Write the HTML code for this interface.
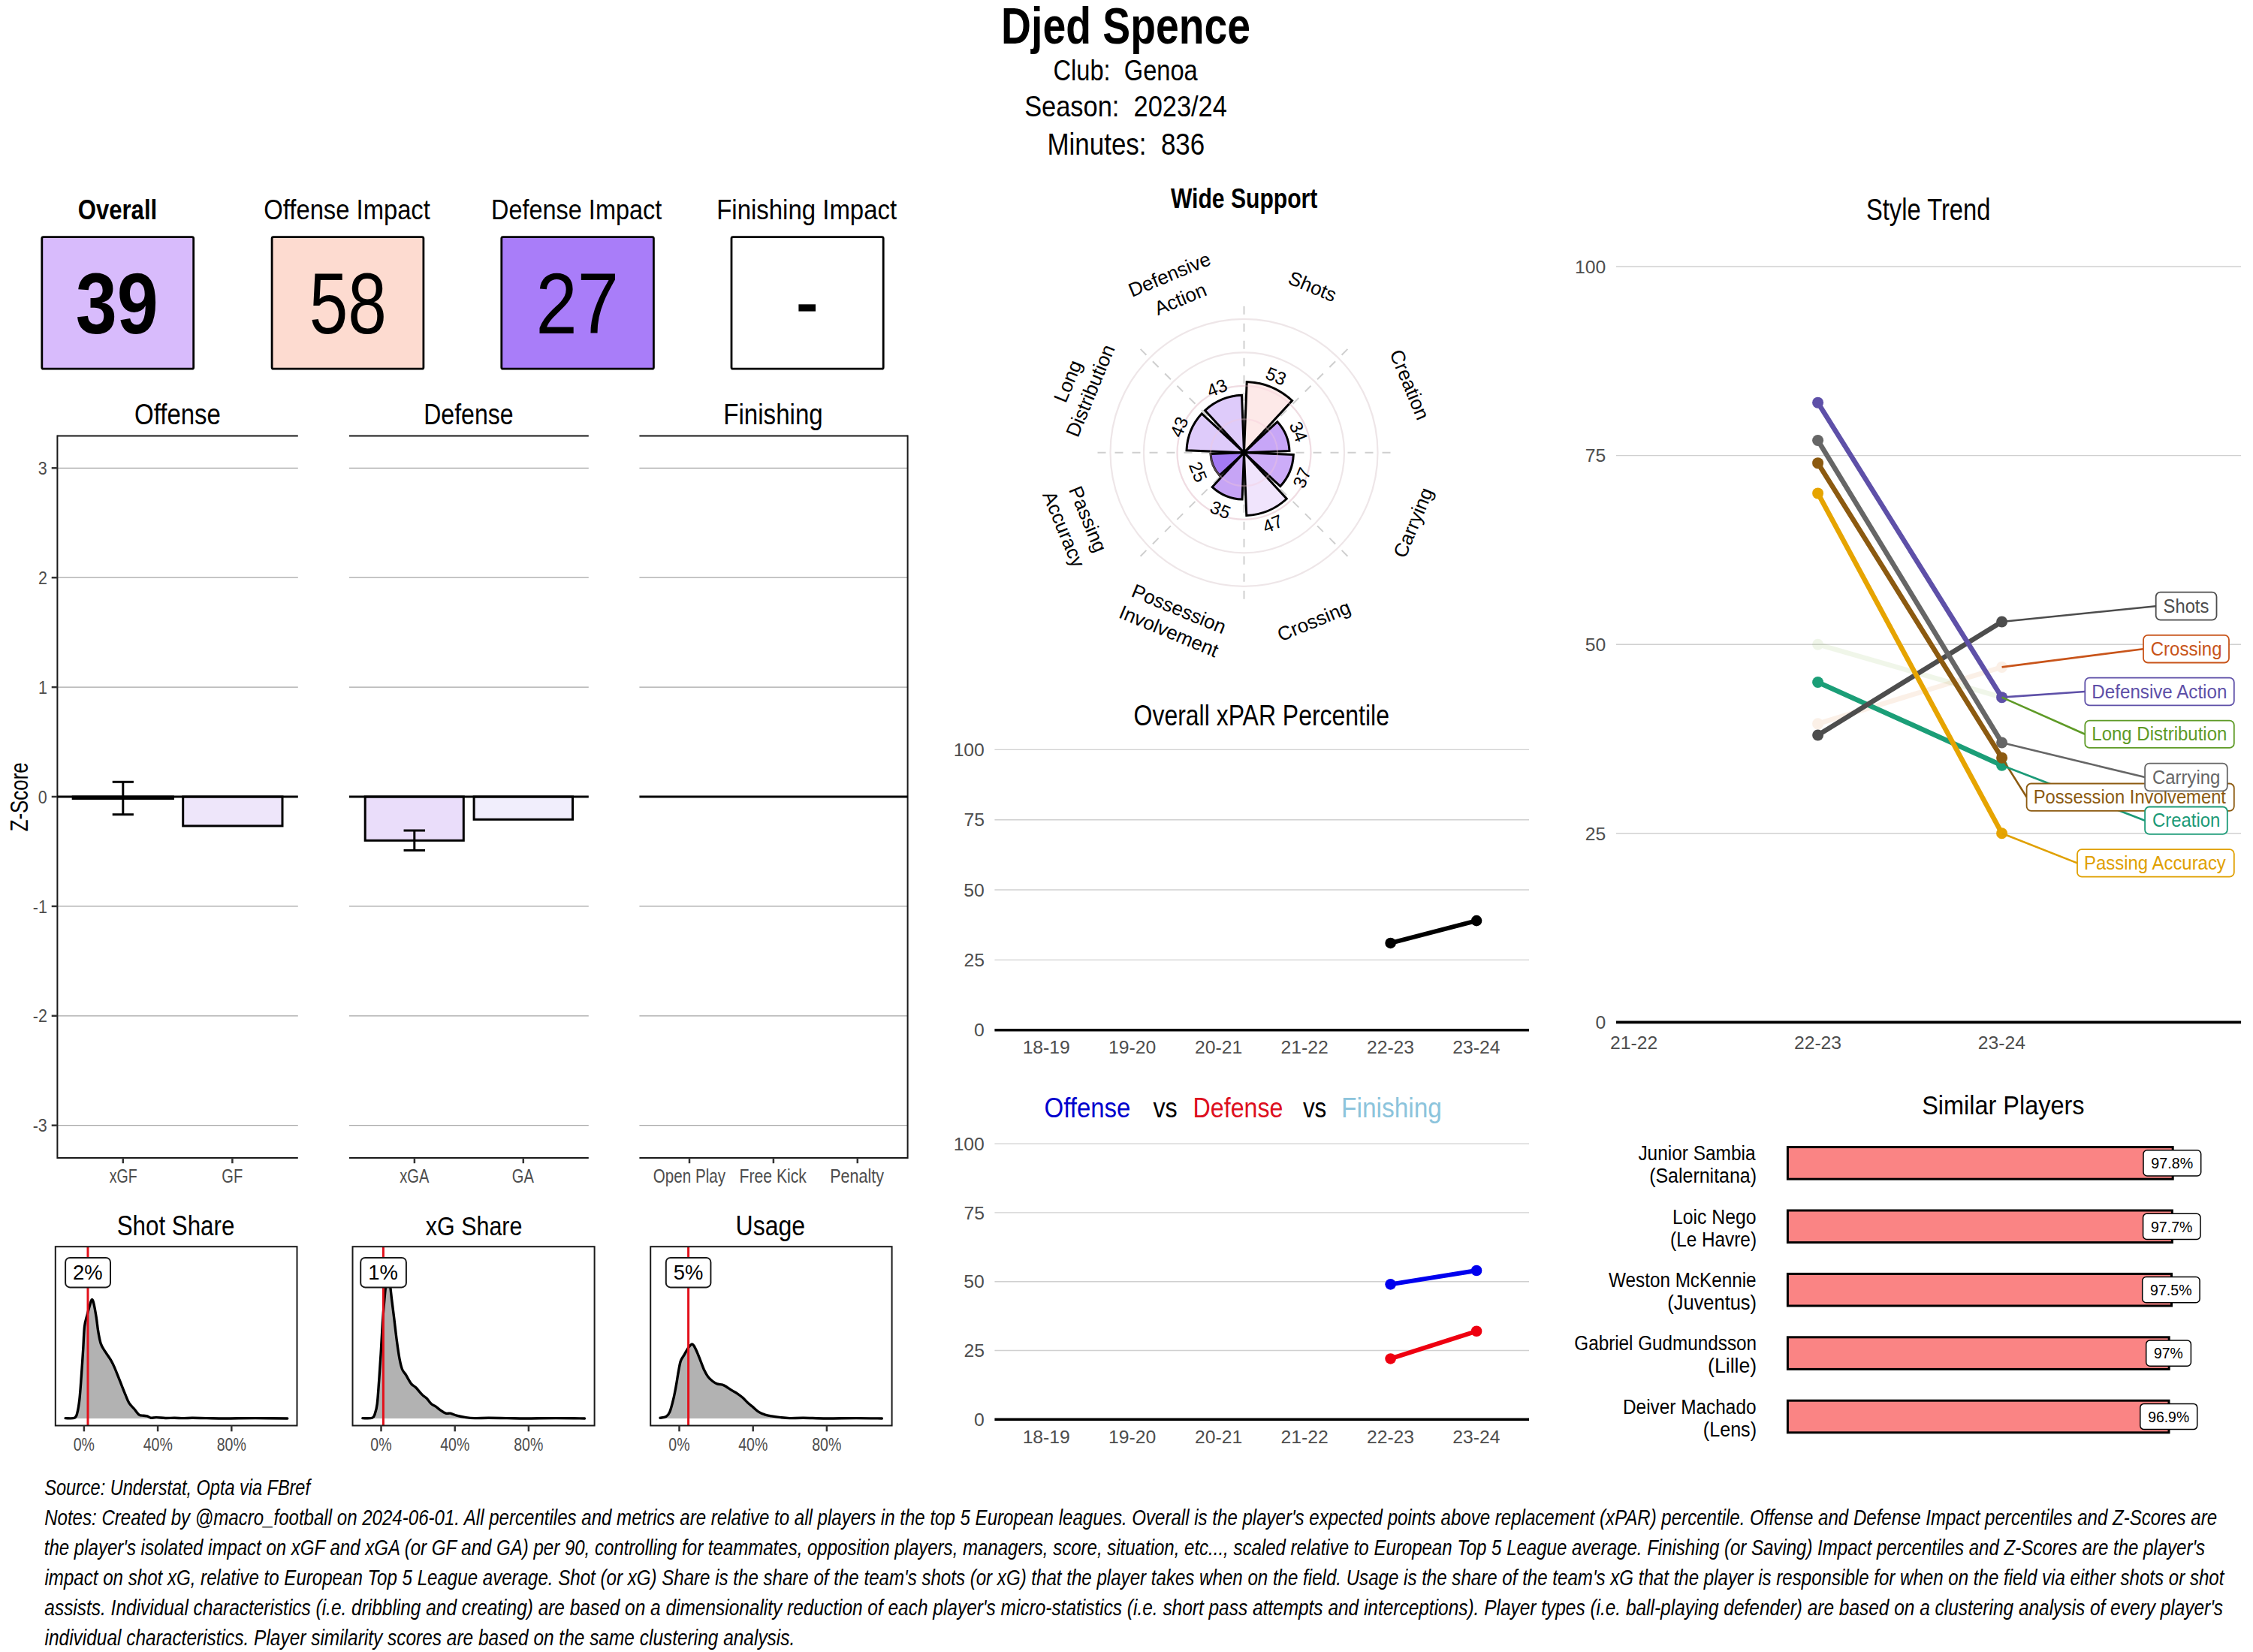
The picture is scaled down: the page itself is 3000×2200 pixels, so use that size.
<!DOCTYPE html>
<html><head><meta charset="utf-8"><style>
html,body{margin:0;padding:0;background:#fff;}
svg{display:block;}
text{font-family:"Liberation Sans",sans-serif;white-space:pre;}
</style></head><body>
<svg width="3000" height="2200" viewBox="0 0 3000 2200">
<rect x="0" y="0" width="3000" height="2200" fill="#fff"/>
<text x="1333.10" y="57.70" font-size="68.31" font-weight="bold" fill="#000" textLength="331.89" lengthAdjust="spacingAndGlyphs">Djed Spence</text>
<text x="1402.54" y="106.50" font-size="38.66" fill="#000" textLength="192.16" lengthAdjust="spacingAndGlyphs">Club:  Genoa</text>
<text x="1364.14" y="154.50" font-size="39.24" fill="#000" textLength="269.77" lengthAdjust="spacingAndGlyphs">Season:  2023/24</text>
<text x="1394.43" y="206.00" font-size="40.12" fill="#000" textLength="209.80" lengthAdjust="spacingAndGlyphs">Minutes:  836</text>
<text x="103.72" y="292.00" font-size="37.79" font-weight="bold" fill="#000" textLength="105.48" lengthAdjust="spacingAndGlyphs">Overall</text>
<text x="351.35" y="292.00" font-size="37.79" fill="#000" textLength="221.49" lengthAdjust="spacingAndGlyphs">Offense Impact</text>
<text x="654.04" y="292.00" font-size="37.79" fill="#000" textLength="227.20" lengthAdjust="spacingAndGlyphs">Defense Impact</text>
<text x="954.20" y="292.00" font-size="37.79" fill="#000" textLength="239.94" lengthAdjust="spacingAndGlyphs">Finishing Impact</text>
<rect x="55.80" y="315.60" width="201.90" height="175.60" fill="#D8BBFC" stroke="#000" stroke-width="2.8" rx="2"/>
<rect x="362.10" y="315.60" width="201.80" height="175.60" fill="#FDDBD0" stroke="#000" stroke-width="2.8" rx="2"/>
<rect x="667.80" y="315.60" width="202.60" height="175.60" fill="#A97DF9" stroke="#000" stroke-width="2.8" rx="2"/>
<rect x="974.00" y="315.60" width="202.20" height="175.60" fill="#FFFFFF" stroke="#000" stroke-width="2.8" rx="2"/>
<text x="100.73" y="444.00" font-size="114.41" font-weight="bold" fill="#000" textLength="109.94" lengthAdjust="spacingAndGlyphs">39</text>
<text x="411.69" y="444.00" font-size="114.41" fill="#000" textLength="103.14" lengthAdjust="spacingAndGlyphs">58</text>
<text x="713.51" y="444.00" font-size="114.41" fill="#000" textLength="110.38" lengthAdjust="spacingAndGlyphs">27</text>
<rect x="1063.40" y="405.30" width="22.60" height="9.30" fill="#000" stroke="none" stroke-width="0" rx="0"/>
<line x1="76.40" y1="623.30" x2="396.80" y2="623.30" stroke="#A6A6A6" stroke-width="1.3"/>
<line x1="76.40" y1="769.20" x2="396.80" y2="769.20" stroke="#A6A6A6" stroke-width="1.3"/>
<line x1="76.40" y1="915.10" x2="396.80" y2="915.10" stroke="#A6A6A6" stroke-width="1.3"/>
<line x1="76.40" y1="1206.90" x2="396.80" y2="1206.90" stroke="#A6A6A6" stroke-width="1.3"/>
<line x1="76.40" y1="1352.80" x2="396.80" y2="1352.80" stroke="#A6A6A6" stroke-width="1.3"/>
<line x1="76.40" y1="1498.70" x2="396.80" y2="1498.70" stroke="#A6A6A6" stroke-width="1.3"/>
<line x1="76.40" y1="580.50" x2="396.80" y2="580.50" stroke="#1A1A1A" stroke-width="2"/>
<line x1="76.40" y1="1542.00" x2="396.80" y2="1542.00" stroke="#1A1A1A" stroke-width="2"/>
<line x1="464.90" y1="623.30" x2="783.80" y2="623.30" stroke="#A6A6A6" stroke-width="1.3"/>
<line x1="464.90" y1="769.20" x2="783.80" y2="769.20" stroke="#A6A6A6" stroke-width="1.3"/>
<line x1="464.90" y1="915.10" x2="783.80" y2="915.10" stroke="#A6A6A6" stroke-width="1.3"/>
<line x1="464.90" y1="1206.90" x2="783.80" y2="1206.90" stroke="#A6A6A6" stroke-width="1.3"/>
<line x1="464.90" y1="1352.80" x2="783.80" y2="1352.80" stroke="#A6A6A6" stroke-width="1.3"/>
<line x1="464.90" y1="1498.70" x2="783.80" y2="1498.70" stroke="#A6A6A6" stroke-width="1.3"/>
<line x1="464.90" y1="580.50" x2="783.80" y2="580.50" stroke="#1A1A1A" stroke-width="2"/>
<line x1="464.90" y1="1542.00" x2="783.80" y2="1542.00" stroke="#1A1A1A" stroke-width="2"/>
<line x1="851.40" y1="623.30" x2="1208.60" y2="623.30" stroke="#A6A6A6" stroke-width="1.3"/>
<line x1="851.40" y1="769.20" x2="1208.60" y2="769.20" stroke="#A6A6A6" stroke-width="1.3"/>
<line x1="851.40" y1="915.10" x2="1208.60" y2="915.10" stroke="#A6A6A6" stroke-width="1.3"/>
<line x1="851.40" y1="1206.90" x2="1208.60" y2="1206.90" stroke="#A6A6A6" stroke-width="1.3"/>
<line x1="851.40" y1="1352.80" x2="1208.60" y2="1352.80" stroke="#A6A6A6" stroke-width="1.3"/>
<line x1="851.40" y1="1498.70" x2="1208.60" y2="1498.70" stroke="#A6A6A6" stroke-width="1.3"/>
<line x1="851.40" y1="580.50" x2="1208.60" y2="580.50" stroke="#1A1A1A" stroke-width="2"/>
<line x1="851.40" y1="1542.00" x2="1208.60" y2="1542.00" stroke="#1A1A1A" stroke-width="2"/>
<line x1="76.40" y1="579.50" x2="76.40" y2="1543.00" stroke="#1A1A1A" stroke-width="2"/>
<line x1="1208.60" y1="579.50" x2="1208.60" y2="1543.00" stroke="#1A1A1A" stroke-width="2"/>
<line x1="68.70" y1="623.30" x2="76.40" y2="623.30" stroke="#333" stroke-width="2.5"/>
<text x="50.79" y="631.90" font-size="24.44" fill="#4D4D4D" textLength="11.96" lengthAdjust="spacingAndGlyphs">3</text>
<line x1="68.70" y1="769.20" x2="76.40" y2="769.20" stroke="#333" stroke-width="2.5"/>
<text x="50.92" y="777.80" font-size="24.44" fill="#4D4D4D" textLength="11.96" lengthAdjust="spacingAndGlyphs">2</text>
<line x1="68.70" y1="915.10" x2="76.40" y2="915.10" stroke="#333" stroke-width="2.5"/>
<text x="50.89" y="923.70" font-size="24.44" fill="#4D4D4D" textLength="11.96" lengthAdjust="spacingAndGlyphs">1</text>
<line x1="68.70" y1="1061.00" x2="76.40" y2="1061.00" stroke="#333" stroke-width="2.5"/>
<text x="50.68" y="1069.60" font-size="24.44" fill="#4D4D4D" textLength="11.96" lengthAdjust="spacingAndGlyphs">0</text>
<line x1="68.70" y1="1206.90" x2="76.40" y2="1206.90" stroke="#333" stroke-width="2.5"/>
<text x="43.73" y="1215.50" font-size="24.44" fill="#4D4D4D" textLength="19.12" lengthAdjust="spacingAndGlyphs">-1</text>
<line x1="68.70" y1="1352.80" x2="76.40" y2="1352.80" stroke="#333" stroke-width="2.5"/>
<text x="43.76" y="1361.40" font-size="24.44" fill="#4D4D4D" textLength="19.12" lengthAdjust="spacingAndGlyphs">-2</text>
<line x1="68.70" y1="1498.70" x2="76.40" y2="1498.70" stroke="#333" stroke-width="2.5"/>
<text x="43.63" y="1507.30" font-size="24.44" fill="#4D4D4D" textLength="19.12" lengthAdjust="spacingAndGlyphs">-3</text>
<g transform="translate(26,1061.5) rotate(-90)">
<text x="-45.82" y="11.35" font-size="32.99" fill="#000" textLength="91.97" lengthAdjust="spacingAndGlyphs">Z-Score</text>
</g>
<text x="179.05" y="565.30" font-size="38.81" fill="#000" textLength="114.81" lengthAdjust="spacingAndGlyphs">Offense</text>
<text x="564.17" y="565.30" font-size="38.81" fill="#000" textLength="119.46" lengthAdjust="spacingAndGlyphs">Defense</text>
<text x="963.29" y="565.00" font-size="37.94" fill="#000" textLength="132.45" lengthAdjust="spacingAndGlyphs">Finishing</text>
<line x1="163.80" y1="1542.00" x2="163.80" y2="1549.20" stroke="#333" stroke-width="2.5"/>
<text x="145.68" y="1574.50" font-size="25.15" fill="#4D4D4D" textLength="37.00" lengthAdjust="spacingAndGlyphs">xGF</text>
<line x1="309.40" y1="1542.00" x2="309.40" y2="1549.20" stroke="#333" stroke-width="2.5"/>
<text x="295.33" y="1574.50" font-size="25.15" fill="#4D4D4D" textLength="27.93" lengthAdjust="spacingAndGlyphs">GF</text>
<line x1="551.90" y1="1542.00" x2="551.90" y2="1549.20" stroke="#333" stroke-width="2.5"/>
<text x="532.25" y="1574.50" font-size="25.15" fill="#4D4D4D" textLength="39.12" lengthAdjust="spacingAndGlyphs">xGA</text>
<line x1="696.80" y1="1542.00" x2="696.80" y2="1549.20" stroke="#333" stroke-width="2.5"/>
<text x="681.78" y="1574.50" font-size="25.15" fill="#4D4D4D" textLength="29.06" lengthAdjust="spacingAndGlyphs">GA</text>
<line x1="918.00" y1="1542.00" x2="918.00" y2="1549.20" stroke="#333" stroke-width="2.5"/>
<text x="869.82" y="1574.50" font-size="25.15" fill="#4D4D4D" textLength="96.22" lengthAdjust="spacingAndGlyphs">Open Play</text>
<line x1="1029.90" y1="1542.00" x2="1029.90" y2="1549.20" stroke="#333" stroke-width="2.5"/>
<text x="984.46" y="1574.50" font-size="25.15" fill="#4D4D4D" textLength="89.51" lengthAdjust="spacingAndGlyphs">Free Kick</text>
<line x1="1141.80" y1="1542.00" x2="1141.80" y2="1549.20" stroke="#333" stroke-width="2.5"/>
<text x="1105.23" y="1574.50" font-size="25.15" fill="#4D4D4D" textLength="71.81" lengthAdjust="spacingAndGlyphs">Penalty</text>
<rect x="97.20" y="1061.00" width="133.20" height="2.50" fill="#EFE8FB" stroke="#000" stroke-width="3" rx="0"/>
<rect x="243.70" y="1061.00" width="132.30" height="38.90" fill="#EEE6FA" stroke="#000" stroke-width="3" rx="0"/>
<rect x="486.20" y="1061.00" width="131.10" height="58.30" fill="#EADDFA" stroke="#000" stroke-width="3" rx="0"/>
<rect x="631.10" y="1061.00" width="131.40" height="30.30" fill="#F1EEFC" stroke="#000" stroke-width="3" rx="0"/>
<line x1="76.40" y1="1061.00" x2="396.80" y2="1061.00" stroke="#000" stroke-width="3"/>
<line x1="464.90" y1="1061.00" x2="783.80" y2="1061.00" stroke="#000" stroke-width="3"/>
<line x1="851.40" y1="1061.00" x2="1208.60" y2="1061.00" stroke="#000" stroke-width="3"/>
<line x1="163.80" y1="1041.30" x2="163.80" y2="1084.70" stroke="#000" stroke-width="3"/>
<line x1="149.70" y1="1041.30" x2="177.90" y2="1041.30" stroke="#000" stroke-width="3"/>
<line x1="149.70" y1="1084.70" x2="177.90" y2="1084.70" stroke="#000" stroke-width="3"/>
<line x1="551.80" y1="1106.00" x2="551.80" y2="1132.40" stroke="#000" stroke-width="3"/>
<line x1="537.55" y1="1106.00" x2="566.05" y2="1106.00" stroke="#000" stroke-width="3"/>
<line x1="537.55" y1="1132.40" x2="566.05" y2="1132.40" stroke="#000" stroke-width="3"/>
<text x="155.68" y="1645.00" font-size="37.79" fill="#000" textLength="156.71" lengthAdjust="spacingAndGlyphs">Shot Share</text>
<text x="566.86" y="1645.00" font-size="35.47" fill="#000" textLength="128.49" lengthAdjust="spacingAndGlyphs">xG Share</text>
<text x="979.53" y="1645.00" font-size="37.79" fill="#000" textLength="92.59" lengthAdjust="spacingAndGlyphs">Usage</text>
<path d="M87.11,1888.62 C89.12,1888.56 96.59,1889.43 99.21,1888.26 C101.84,1887.09 101.74,1885.73 102.85,1881.60 C103.95,1877.46 104.96,1871.51 105.87,1863.44 C106.78,1855.37 107.49,1844.27 108.29,1833.17 C109.10,1822.07 110.01,1807.95 110.71,1796.85 C111.42,1785.75 111.62,1774.25 112.53,1766.59 C113.44,1758.92 114.95,1755.69 116.16,1750.85 C117.37,1746.00 118.79,1740.86 119.79,1737.53 C120.80,1734.20 121.41,1731.28 122.22,1730.87 C123.02,1730.47 123.63,1731.17 124.64,1735.11 C125.65,1739.04 127.26,1748.22 128.27,1754.48 C129.28,1760.73 129.68,1766.79 130.69,1772.64 C131.70,1778.49 132.71,1784.95 134.32,1789.59 C135.94,1794.23 138.16,1796.85 140.38,1800.48 C142.59,1804.12 145.62,1807.95 147.64,1811.38 C149.66,1814.81 150.46,1816.42 152.48,1821.07 C154.50,1825.71 157.32,1833.17 159.75,1839.23 C162.17,1845.28 164.99,1852.54 167.01,1857.38 C169.03,1862.23 169.83,1865.05 171.85,1868.28 C173.87,1871.51 176.90,1874.13 179.12,1876.76 C181.34,1879.38 183.15,1882.61 185.17,1884.02 C187.19,1885.43 189.41,1884.93 191.22,1885.23 C193.04,1885.53 194.45,1885.33 196.07,1885.84 C197.68,1886.34 198.89,1887.95 200.91,1888.26 C202.93,1888.56 204.94,1887.61 208.17,1887.65 C211.40,1887.69 216.24,1888.40 220.28,1888.50 C224.31,1888.60 228.35,1888.24 232.38,1888.26 C236.42,1888.28 240.46,1888.62 244.49,1888.62 C248.53,1888.62 251.51,1888.26 256.60,1888.26 C261.68,1888.26 267.77,1888.50 275.00,1888.62 C282.23,1888.74 289.17,1889.00 300.00,1889.00 C310.83,1889.00 326.22,1888.60 340.00,1888.60 C353.78,1888.60 375.58,1888.93 382.70,1889.00 L382.70,1889 L87.11,1889 Z" fill="#B2B2B2" stroke="none"/>
<path d="M87.11,1888.62 C89.12,1888.56 96.59,1889.43 99.21,1888.26 C101.84,1887.09 101.74,1885.73 102.85,1881.60 C103.95,1877.46 104.96,1871.51 105.87,1863.44 C106.78,1855.37 107.49,1844.27 108.29,1833.17 C109.10,1822.07 110.01,1807.95 110.71,1796.85 C111.42,1785.75 111.62,1774.25 112.53,1766.59 C113.44,1758.92 114.95,1755.69 116.16,1750.85 C117.37,1746.00 118.79,1740.86 119.79,1737.53 C120.80,1734.20 121.41,1731.28 122.22,1730.87 C123.02,1730.47 123.63,1731.17 124.64,1735.11 C125.65,1739.04 127.26,1748.22 128.27,1754.48 C129.28,1760.73 129.68,1766.79 130.69,1772.64 C131.70,1778.49 132.71,1784.95 134.32,1789.59 C135.94,1794.23 138.16,1796.85 140.38,1800.48 C142.59,1804.12 145.62,1807.95 147.64,1811.38 C149.66,1814.81 150.46,1816.42 152.48,1821.07 C154.50,1825.71 157.32,1833.17 159.75,1839.23 C162.17,1845.28 164.99,1852.54 167.01,1857.38 C169.03,1862.23 169.83,1865.05 171.85,1868.28 C173.87,1871.51 176.90,1874.13 179.12,1876.76 C181.34,1879.38 183.15,1882.61 185.17,1884.02 C187.19,1885.43 189.41,1884.93 191.22,1885.23 C193.04,1885.53 194.45,1885.33 196.07,1885.84 C197.68,1886.34 198.89,1887.95 200.91,1888.26 C202.93,1888.56 204.94,1887.61 208.17,1887.65 C211.40,1887.69 216.24,1888.40 220.28,1888.50 C224.31,1888.60 228.35,1888.24 232.38,1888.26 C236.42,1888.28 240.46,1888.62 244.49,1888.62 C248.53,1888.62 251.51,1888.26 256.60,1888.26 C261.68,1888.26 267.77,1888.50 275.00,1888.62 C282.23,1888.74 289.17,1889.00 300.00,1889.00 C310.83,1889.00 326.22,1888.60 340.00,1888.60 C353.78,1888.60 375.58,1888.93 382.70,1889.00" fill="none" stroke="#000" stroke-width="3.4" stroke-linejoin="round" stroke-linecap="round"/>
<line x1="117.00" y1="1660.20" x2="117.00" y2="1898.50" stroke="#E3111B" stroke-width="3"/>
<rect x="73.80" y="1660.20" width="321.70" height="238.30" fill="none" stroke="#1A1A1A" stroke-width="2" rx="0"/>
<line x1="111.90" y1="1898.50" x2="111.90" y2="1906.30" stroke="#333" stroke-width="2.5"/>
<text x="97.74" y="1931.60" font-size="24.44" fill="#4D4D4D" textLength="28.25" lengthAdjust="spacingAndGlyphs">0%</text>
<line x1="210.10" y1="1898.50" x2="210.10" y2="1906.30" stroke="#333" stroke-width="2.5"/>
<text x="190.66" y="1931.60" font-size="24.44" fill="#4D4D4D" textLength="39.12" lengthAdjust="spacingAndGlyphs">40%</text>
<line x1="308.30" y1="1898.50" x2="308.30" y2="1906.30" stroke="#333" stroke-width="2.5"/>
<text x="288.66" y="1931.60" font-size="24.44" fill="#4D4D4D" textLength="39.12" lengthAdjust="spacingAndGlyphs">80%</text>
<rect x="87.10" y="1674.90" width="59.90" height="39.50" fill="#fff" stroke="#1A1A1A" stroke-width="2" rx="6"/>
<text x="97.05" y="1704.20" font-size="27.40" fill="#000" textLength="39.60" lengthAdjust="spacingAndGlyphs">2%</text>
<path d="M482.87,1888.62 C484.99,1888.56 492.86,1889.23 495.58,1888.26 C498.31,1887.29 498.10,1885.94 499.21,1882.81 C500.32,1879.68 501.33,1876.76 502.24,1869.49 C503.15,1862.23 503.85,1850.32 504.66,1839.23 C505.47,1828.13 506.28,1816.02 507.08,1802.91 C507.89,1789.79 508.70,1772.64 509.50,1760.53 C510.31,1748.43 511.12,1739.14 511.92,1730.27 C512.73,1721.39 513.54,1711.90 514.35,1707.26 C515.15,1702.62 515.96,1702.02 516.77,1702.42 C517.57,1702.82 518.38,1705.04 519.19,1709.69 C520.00,1714.33 520.70,1722.80 521.61,1730.27 C522.52,1737.73 523.53,1745.40 524.64,1754.48 C525.75,1763.56 527.06,1775.67 528.27,1784.75 C529.48,1793.83 530.69,1802.50 531.90,1808.96 C533.11,1815.42 534.12,1819.85 535.53,1823.49 C536.95,1827.12 538.36,1827.52 540.38,1830.75 C542.39,1833.98 545.42,1840.03 547.64,1842.86 C549.86,1845.68 551.27,1845.28 553.69,1847.70 C556.11,1850.12 559.75,1854.96 562.17,1857.38 C564.59,1859.81 566.20,1860.21 568.22,1862.23 C570.24,1864.25 572.26,1867.68 574.27,1869.49 C576.29,1871.31 578.31,1871.71 580.33,1873.12 C582.34,1874.54 584.16,1876.45 586.38,1877.97 C588.60,1879.48 591.42,1881.50 593.64,1882.20 C595.86,1882.91 597.28,1881.70 599.70,1882.20 C602.12,1882.71 604.74,1884.32 608.17,1885.23 C611.60,1886.14 616.24,1887.09 620.28,1887.65 C624.31,1888.22 627.34,1888.52 632.38,1888.62 C637.43,1888.72 643.44,1888.26 650.54,1888.26 C657.65,1888.26 666.76,1888.50 675.00,1888.62 C683.24,1888.74 689.17,1889.00 700.00,1889.00 C710.83,1889.00 726.92,1888.60 740.00,1888.60 C753.08,1888.60 772.08,1888.93 778.50,1889.00 L778.50,1889 L482.87,1889 Z" fill="#B2B2B2" stroke="none"/>
<path d="M482.87,1888.62 C484.99,1888.56 492.86,1889.23 495.58,1888.26 C498.31,1887.29 498.10,1885.94 499.21,1882.81 C500.32,1879.68 501.33,1876.76 502.24,1869.49 C503.15,1862.23 503.85,1850.32 504.66,1839.23 C505.47,1828.13 506.28,1816.02 507.08,1802.91 C507.89,1789.79 508.70,1772.64 509.50,1760.53 C510.31,1748.43 511.12,1739.14 511.92,1730.27 C512.73,1721.39 513.54,1711.90 514.35,1707.26 C515.15,1702.62 515.96,1702.02 516.77,1702.42 C517.57,1702.82 518.38,1705.04 519.19,1709.69 C520.00,1714.33 520.70,1722.80 521.61,1730.27 C522.52,1737.73 523.53,1745.40 524.64,1754.48 C525.75,1763.56 527.06,1775.67 528.27,1784.75 C529.48,1793.83 530.69,1802.50 531.90,1808.96 C533.11,1815.42 534.12,1819.85 535.53,1823.49 C536.95,1827.12 538.36,1827.52 540.38,1830.75 C542.39,1833.98 545.42,1840.03 547.64,1842.86 C549.86,1845.68 551.27,1845.28 553.69,1847.70 C556.11,1850.12 559.75,1854.96 562.17,1857.38 C564.59,1859.81 566.20,1860.21 568.22,1862.23 C570.24,1864.25 572.26,1867.68 574.27,1869.49 C576.29,1871.31 578.31,1871.71 580.33,1873.12 C582.34,1874.54 584.16,1876.45 586.38,1877.97 C588.60,1879.48 591.42,1881.50 593.64,1882.20 C595.86,1882.91 597.28,1881.70 599.70,1882.20 C602.12,1882.71 604.74,1884.32 608.17,1885.23 C611.60,1886.14 616.24,1887.09 620.28,1887.65 C624.31,1888.22 627.34,1888.52 632.38,1888.62 C637.43,1888.72 643.44,1888.26 650.54,1888.26 C657.65,1888.26 666.76,1888.50 675.00,1888.62 C683.24,1888.74 689.17,1889.00 700.00,1889.00 C710.83,1889.00 726.92,1888.60 740.00,1888.60 C753.08,1888.60 772.08,1888.93 778.50,1889.00" fill="none" stroke="#000" stroke-width="3.4" stroke-linejoin="round" stroke-linecap="round"/>
<line x1="510.40" y1="1660.20" x2="510.40" y2="1898.50" stroke="#E3111B" stroke-width="3"/>
<rect x="469.50" y="1660.20" width="322.10" height="238.30" fill="none" stroke="#1A1A1A" stroke-width="2" rx="0"/>
<line x1="507.50" y1="1898.50" x2="507.50" y2="1906.30" stroke="#333" stroke-width="2.5"/>
<text x="493.34" y="1931.60" font-size="24.44" fill="#4D4D4D" textLength="28.25" lengthAdjust="spacingAndGlyphs">0%</text>
<line x1="605.70" y1="1898.50" x2="605.70" y2="1906.30" stroke="#333" stroke-width="2.5"/>
<text x="586.26" y="1931.60" font-size="24.44" fill="#4D4D4D" textLength="39.12" lengthAdjust="spacingAndGlyphs">40%</text>
<line x1="703.90" y1="1898.50" x2="703.90" y2="1906.30" stroke="#333" stroke-width="2.5"/>
<text x="684.26" y="1931.60" font-size="24.44" fill="#4D4D4D" textLength="39.12" lengthAdjust="spacingAndGlyphs">80%</text>
<rect x="480.20" y="1674.90" width="60.70" height="39.50" fill="#fff" stroke="#1A1A1A" stroke-width="2" rx="6"/>
<text x="490.19" y="1704.20" font-size="27.40" fill="#000" textLength="39.60" lengthAdjust="spacingAndGlyphs">1%</text>
<path d="M879.08,1888.26 C880.39,1887.95 884.83,1887.75 886.95,1886.44 C889.07,1885.13 890.18,1884.22 891.79,1880.39 C893.41,1876.55 895.22,1869.29 896.63,1863.44 C898.05,1857.59 899.16,1851.33 900.27,1845.28 C901.38,1839.23 902.28,1832.57 903.29,1827.12 C904.30,1821.67 905.01,1816.42 906.32,1812.59 C907.63,1808.76 909.55,1806.94 911.16,1804.12 C912.78,1801.29 914.39,1797.96 916.00,1795.64 C917.62,1793.32 919.54,1790.80 920.85,1790.19 C922.16,1789.59 922.66,1790.29 923.87,1792.01 C925.08,1793.72 926.60,1797.05 928.11,1800.48 C929.62,1803.91 931.34,1808.56 932.95,1812.59 C934.57,1816.63 936.18,1821.27 937.80,1824.70 C939.41,1828.13 940.82,1830.75 942.64,1833.17 C944.46,1835.59 946.67,1837.61 948.69,1839.23 C950.71,1840.84 952.53,1842.05 954.75,1842.86 C956.97,1843.66 959.99,1843.46 962.01,1844.07 C964.03,1844.67 964.83,1845.28 966.85,1846.49 C968.87,1847.70 971.69,1849.82 974.12,1851.33 C976.54,1852.85 978.96,1853.95 981.38,1855.57 C983.80,1857.18 986.22,1858.90 988.64,1861.02 C991.07,1863.14 993.49,1866.06 995.91,1868.28 C998.33,1870.50 1000.75,1872.32 1003.17,1874.33 C1005.59,1876.35 1007.81,1878.77 1010.44,1880.39 C1013.06,1882.00 1016.09,1883.11 1018.91,1884.02 C1021.74,1884.93 1023.95,1885.23 1027.38,1885.84 C1030.82,1886.44 1035.46,1887.19 1039.49,1887.65 C1043.53,1888.12 1046.51,1888.52 1051.60,1888.62 C1056.68,1888.72 1061.93,1888.19 1070.00,1888.26 C1078.07,1888.32 1088.33,1888.94 1100.00,1889.00 C1111.67,1889.06 1127.60,1888.60 1140.00,1888.60 C1152.40,1888.60 1168.67,1888.93 1174.40,1889.00 L1174.40,1889 L879.08,1889 Z" fill="#B2B2B2" stroke="none"/>
<path d="M879.08,1888.26 C880.39,1887.95 884.83,1887.75 886.95,1886.44 C889.07,1885.13 890.18,1884.22 891.79,1880.39 C893.41,1876.55 895.22,1869.29 896.63,1863.44 C898.05,1857.59 899.16,1851.33 900.27,1845.28 C901.38,1839.23 902.28,1832.57 903.29,1827.12 C904.30,1821.67 905.01,1816.42 906.32,1812.59 C907.63,1808.76 909.55,1806.94 911.16,1804.12 C912.78,1801.29 914.39,1797.96 916.00,1795.64 C917.62,1793.32 919.54,1790.80 920.85,1790.19 C922.16,1789.59 922.66,1790.29 923.87,1792.01 C925.08,1793.72 926.60,1797.05 928.11,1800.48 C929.62,1803.91 931.34,1808.56 932.95,1812.59 C934.57,1816.63 936.18,1821.27 937.80,1824.70 C939.41,1828.13 940.82,1830.75 942.64,1833.17 C944.46,1835.59 946.67,1837.61 948.69,1839.23 C950.71,1840.84 952.53,1842.05 954.75,1842.86 C956.97,1843.66 959.99,1843.46 962.01,1844.07 C964.03,1844.67 964.83,1845.28 966.85,1846.49 C968.87,1847.70 971.69,1849.82 974.12,1851.33 C976.54,1852.85 978.96,1853.95 981.38,1855.57 C983.80,1857.18 986.22,1858.90 988.64,1861.02 C991.07,1863.14 993.49,1866.06 995.91,1868.28 C998.33,1870.50 1000.75,1872.32 1003.17,1874.33 C1005.59,1876.35 1007.81,1878.77 1010.44,1880.39 C1013.06,1882.00 1016.09,1883.11 1018.91,1884.02 C1021.74,1884.93 1023.95,1885.23 1027.38,1885.84 C1030.82,1886.44 1035.46,1887.19 1039.49,1887.65 C1043.53,1888.12 1046.51,1888.52 1051.60,1888.62 C1056.68,1888.72 1061.93,1888.19 1070.00,1888.26 C1078.07,1888.32 1088.33,1888.94 1100.00,1889.00 C1111.67,1889.06 1127.60,1888.60 1140.00,1888.60 C1152.40,1888.60 1168.67,1888.93 1174.40,1889.00" fill="none" stroke="#000" stroke-width="3.4" stroke-linejoin="round" stroke-linecap="round"/>
<line x1="916.60" y1="1660.20" x2="916.60" y2="1898.50" stroke="#E3111B" stroke-width="3"/>
<rect x="866.20" y="1660.20" width="321.40" height="238.30" fill="none" stroke="#1A1A1A" stroke-width="2" rx="0"/>
<line x1="904.50" y1="1898.50" x2="904.50" y2="1906.30" stroke="#333" stroke-width="2.5"/>
<text x="890.34" y="1931.60" font-size="24.44" fill="#4D4D4D" textLength="28.25" lengthAdjust="spacingAndGlyphs">0%</text>
<line x1="1002.70" y1="1898.50" x2="1002.70" y2="1906.30" stroke="#333" stroke-width="2.5"/>
<text x="983.26" y="1931.60" font-size="24.44" fill="#4D4D4D" textLength="39.12" lengthAdjust="spacingAndGlyphs">40%</text>
<line x1="1100.90" y1="1898.50" x2="1100.90" y2="1906.30" stroke="#333" stroke-width="2.5"/>
<text x="1081.26" y="1931.60" font-size="24.44" fill="#4D4D4D" textLength="39.12" lengthAdjust="spacingAndGlyphs">80%</text>
<rect x="886.80" y="1674.90" width="59.60" height="39.50" fill="#fff" stroke="#1A1A1A" stroke-width="2" rx="6"/>
<text x="896.74" y="1704.20" font-size="27.40" fill="#000" textLength="39.60" lengthAdjust="spacingAndGlyphs">5%</text>
<text x="59.23" y="1991.00" font-size="30.38" font-style="italic" fill="#000" textLength="353.74" lengthAdjust="spacingAndGlyphs">Source: Understat, Opta via FBref</text>
<text x="59.16" y="2031.00" font-size="30.38" font-style="italic" fill="#000" textLength="2892.93" lengthAdjust="spacingAndGlyphs">Notes: Created by @macro_football on 2024-06-01. All percentiles and metrics are relative to all players in the top 5 European leagues. Overall is the player's expected points above replacement (xPAR) percentile. Offense and Defense Impact percentiles and Z-Scores are</text>
<text x="58.81" y="2071.00" font-size="30.38" font-style="italic" fill="#000" textLength="2877.28" lengthAdjust="spacingAndGlyphs">the player's isolated impact on xGF and xGA (or GF and GA) per 90, controlling for teammates, opposition players, managers, score, situation, etc..., scaled relative to European Top 5 League average. Finishing (or Saving) Impact percentiles and Z-Scores are the player's</text>
<text x="59.51" y="2111.00" font-size="30.38" font-style="italic" fill="#000" textLength="2901.95" lengthAdjust="spacingAndGlyphs">impact on shot xG, relative to European Top 5 League average. Shot (or xG) Share is the share of the team's shots (or xG) that the player takes when on the field. Usage is the share of the team's xG that the player is responsible for when on the field via either shots or shot</text>
<text x="59.35" y="2151.00" font-size="30.38" font-style="italic" fill="#000" textLength="2900.75" lengthAdjust="spacingAndGlyphs">assists. Individual characteristics (i.e. dribbling and creating) are based on a dimensionality reduction of each player's micro-statistics (i.e. short pass attempts and interceptions). Player types (i.e. ball-playing defender) are based on a clustering analysis of every player's</text>
<text x="59.51" y="2191.00" font-size="30.38" font-style="italic" fill="#000" textLength="998.79" lengthAdjust="spacingAndGlyphs">individual characteristics. Player similarity scores are based on the same clustering analysis.</text>
<text x="1558.97" y="277.40" font-size="37.21" font-weight="bold" fill="#000" textLength="195.40" lengthAdjust="spacingAndGlyphs">Wide Support</text>
<circle cx="1656.5" cy="602.8" r="44.5" fill="none" stroke="#EEE6E8" stroke-width="2.2"/>
<circle cx="1656.5" cy="602.8" r="89" fill="none" stroke="#EEE6E8" stroke-width="2.2"/>
<circle cx="1656.5" cy="602.8" r="133.5" fill="none" stroke="#EEE6E8" stroke-width="2.2"/>
<circle cx="1656.5" cy="602.8" r="178" fill="none" stroke="#EEE6E8" stroke-width="2.2"/>
<line x1="1656.5" y1="602.8" x2="1656.50" y2="404.80" stroke="#CFCFCF" stroke-width="2" stroke-dasharray="11,12"/>
<line x1="1656.5" y1="602.8" x2="1796.51" y2="462.79" stroke="#CFCFCF" stroke-width="2" stroke-dasharray="11,12"/>
<line x1="1656.5" y1="602.8" x2="1854.50" y2="602.80" stroke="#CFCFCF" stroke-width="2" stroke-dasharray="11,12"/>
<line x1="1656.5" y1="602.8" x2="1796.51" y2="742.81" stroke="#CFCFCF" stroke-width="2" stroke-dasharray="11,12"/>
<line x1="1656.5" y1="602.8" x2="1656.50" y2="800.80" stroke="#CFCFCF" stroke-width="2" stroke-dasharray="11,12"/>
<line x1="1656.5" y1="602.8" x2="1516.49" y2="742.81" stroke="#CFCFCF" stroke-width="2" stroke-dasharray="11,12"/>
<line x1="1656.5" y1="602.8" x2="1458.50" y2="602.80" stroke="#CFCFCF" stroke-width="2" stroke-dasharray="11,12"/>
<line x1="1656.5" y1="602.8" x2="1516.49" y2="462.79" stroke="#CFCFCF" stroke-width="2" stroke-dasharray="11,12"/>
<path d="M1656.5,602.8 L1660.20,508.53 A94.34,94.34 0 0 1 1720.54,533.52 Z" fill="#FDE9E8" stroke="#000" stroke-width="3" stroke-linejoin="miter"/>
<path d="M1656.5,602.8 L1700.94,561.72 A60.52,60.52 0 0 1 1716.97,600.42 Z" fill="#C7A6F7" stroke="#000" stroke-width="3" stroke-linejoin="miter"/>
<path d="M1656.5,602.8 L1722.31,605.39 A65.86,65.86 0 0 1 1704.86,647.51 Z" fill="#CCACF8" stroke="#000" stroke-width="3" stroke-linejoin="miter"/>
<path d="M1656.5,602.8 L1713.29,664.23 A83.66,83.66 0 0 1 1659.78,686.40 Z" fill="#F0E4FC" stroke="#000" stroke-width="3" stroke-linejoin="miter"/>
<path d="M1656.5,602.8 L1654.05,665.05 A62.30,62.30 0 0 1 1614.21,648.55 Z" fill="#C6A4F5" stroke="#000" stroke-width="3" stroke-linejoin="miter"/>
<path d="M1656.5,602.8 L1623.82,633.01 A44.50,44.50 0 0 1 1612.03,604.55 Z" fill="#A47AF4" stroke="#000" stroke-width="3" stroke-linejoin="miter"/>
<path d="M1656.5,602.8 L1580.02,599.80 A76.54,76.54 0 0 1 1600.29,550.84 Z" fill="#DECBFA" stroke="#000" stroke-width="3" stroke-linejoin="miter"/>
<path d="M1656.5,602.8 L1604.54,546.59 A76.54,76.54 0 0 1 1653.50,526.32 Z" fill="#DECBFA" stroke="#000" stroke-width="3" stroke-linejoin="miter"/>
<circle cx="1656.5" cy="602.8" r="44.5" fill="none" stroke="#F4C8D8" stroke-width="2" opacity="0.35"/>
<circle cx="1656.5" cy="602.8" r="89" fill="none" stroke="#F4C8D8" stroke-width="2" opacity="0.35"/>
<g transform="translate(1699.00,501.00) rotate(22.5)"><text x="-13.30" y="8.26" font-size="24.00" fill="#000" textLength="26.70" lengthAdjust="spacingAndGlyphs">53</text></g>
<g transform="translate(1729.00,575.00) rotate(67.5)"><text x="-13.45" y="8.26" font-size="24.00" fill="#000" textLength="26.70" lengthAdjust="spacingAndGlyphs">34</text></g>
<g transform="translate(1733.60,636.40) rotate(-67.5)"><text x="-13.20" y="8.26" font-size="24.00" fill="#000" textLength="26.70" lengthAdjust="spacingAndGlyphs">37</text></g>
<g transform="translate(1694.30,697.80) rotate(-22.5)"><text x="-13.02" y="8.26" font-size="24.00" fill="#000" textLength="26.70" lengthAdjust="spacingAndGlyphs">47</text></g>
<g transform="translate(1625.00,679.00) rotate(22.5)"><text x="-13.30" y="8.26" font-size="24.00" fill="#000" textLength="26.70" lengthAdjust="spacingAndGlyphs">35</text></g>
<g transform="translate(1595.20,628.60) rotate(67.5)"><text x="-13.45" y="8.26" font-size="24.00" fill="#000" textLength="26.70" lengthAdjust="spacingAndGlyphs">25</text></g>
<g transform="translate(1570.00,568.80) rotate(-67.5)"><text x="-13.10" y="8.26" font-size="24.00" fill="#000" textLength="26.70" lengthAdjust="spacingAndGlyphs">43</text></g>
<g transform="translate(1620.30,516.80) rotate(-22.5)"><text x="-13.10" y="8.26" font-size="24.00" fill="#000" textLength="26.70" lengthAdjust="spacingAndGlyphs">43</text></g>
<g transform="translate(1747.80,381.50) rotate(22.5)"><text x="-33.36" y="8.94" font-size="26.00" fill="#000" textLength="66.49" lengthAdjust="spacingAndGlyphs">Shots</text></g>
<g transform="translate(1557.70,365.30) rotate(-22.5)"><text x="-58.30" y="8.94" font-size="26.00" fill="#000" textLength="115.62" lengthAdjust="spacingAndGlyphs">Defensive</text></g>
<g transform="translate(1571.00,398.50) rotate(-22.5)"><text x="-35.31" y="8.94" font-size="26.00" fill="#000" textLength="72.26" lengthAdjust="spacingAndGlyphs">Action</text></g>
<g transform="translate(1876.90,512.10) rotate(67.5)"><text x="-48.95" y="8.94" font-size="26.00" fill="#000" textLength="98.27" lengthAdjust="spacingAndGlyphs">Creation</text></g>
<g transform="translate(1881.60,696.20) rotate(-67.5)"><text x="-48.95" y="8.94" font-size="26.00" fill="#000" textLength="98.25" lengthAdjust="spacingAndGlyphs">Carrying</text></g>
<g transform="translate(1749.40,826.90) rotate(-22.5)"><text x="-51.12" y="8.94" font-size="26.00" fill="#000" textLength="102.59" lengthAdjust="spacingAndGlyphs">Crossing</text></g>
<g transform="translate(1570.00,811.00) rotate(22.5)"><text x="-66.70" y="8.94" font-size="26.00" fill="#000" textLength="132.96" lengthAdjust="spacingAndGlyphs">Possession</text></g>
<g transform="translate(1557.40,841.00) rotate(22.5)"><text x="-71.20" y="8.94" font-size="26.00" fill="#000" textLength="140.18" lengthAdjust="spacingAndGlyphs">Involvement</text></g>
<g transform="translate(1448.80,691.50) rotate(67.5)"><text x="-46.48" y="8.94" font-size="26.00" fill="#000" textLength="92.50" lengthAdjust="spacingAndGlyphs">Passing</text></g>
<g transform="translate(1416.50,704.70) rotate(67.5)"><text x="-53.46" y="8.94" font-size="26.00" fill="#000" textLength="106.92" lengthAdjust="spacingAndGlyphs">Accuracy</text></g>
<g transform="translate(1422.00,507.40) rotate(-67.5)"><text x="-29.15" y="8.94" font-size="26.00" fill="#000" textLength="57.84" lengthAdjust="spacingAndGlyphs">Long</text></g>
<g transform="translate(1452.00,520.00) rotate(-67.5)"><text x="-65.25" y="8.94" font-size="26.00" fill="#000" textLength="130.05" lengthAdjust="spacingAndGlyphs">Distribution</text></g>
<text x="1509.60" y="965.50" font-size="38.08" fill="#000" textLength="340.31" lengthAdjust="spacingAndGlyphs">Overall xPAR Percentile</text>
<line x1="1324.40" y1="1278.36" x2="2036.00" y2="1278.36" stroke="#D0D0D0" stroke-width="1.4"/>
<line x1="1324.40" y1="1185.02" x2="2036.00" y2="1185.02" stroke="#D0D0D0" stroke-width="1.4"/>
<line x1="1324.40" y1="1091.68" x2="2036.00" y2="1091.68" stroke="#D0D0D0" stroke-width="1.4"/>
<line x1="1324.40" y1="998.34" x2="2036.00" y2="998.34" stroke="#D0D0D0" stroke-width="1.4"/>
<line x1="1324.40" y1="1371.70" x2="2036.00" y2="1371.70" stroke="#000" stroke-width="3.6"/>
<text x="1297.12" y="1380.45" font-size="24.72" fill="#4D4D4D" textLength="13.75" lengthAdjust="spacingAndGlyphs">0</text>
<text x="1283.44" y="1287.11" font-size="24.72" fill="#4D4D4D" textLength="27.49" lengthAdjust="spacingAndGlyphs">25</text>
<text x="1283.37" y="1193.77" font-size="24.72" fill="#4D4D4D" textLength="27.49" lengthAdjust="spacingAndGlyphs">50</text>
<text x="1283.44" y="1100.43" font-size="24.72" fill="#4D4D4D" textLength="27.49" lengthAdjust="spacingAndGlyphs">75</text>
<text x="1269.63" y="1007.09" font-size="24.72" fill="#4D4D4D" textLength="41.24" lengthAdjust="spacingAndGlyphs">100</text>
<text x="1361.63" y="1403.40" font-size="24.72" fill="#4D4D4D" textLength="63.22" lengthAdjust="spacingAndGlyphs">18-19</text>
<text x="1476.03" y="1403.40" font-size="24.72" fill="#4D4D4D" textLength="63.22" lengthAdjust="spacingAndGlyphs">19-20</text>
<text x="1590.97" y="1403.40" font-size="24.72" fill="#4D4D4D" textLength="63.22" lengthAdjust="spacingAndGlyphs">20-21</text>
<text x="1705.49" y="1403.40" font-size="24.72" fill="#4D4D4D" textLength="63.22" lengthAdjust="spacingAndGlyphs">21-22</text>
<text x="1819.91" y="1403.40" font-size="24.72" fill="#4D4D4D" textLength="63.22" lengthAdjust="spacingAndGlyphs">22-23</text>
<text x="1934.23" y="1403.40" font-size="24.72" fill="#4D4D4D" textLength="63.22" lengthAdjust="spacingAndGlyphs">23-24</text>
<line x1="1851.60" y1="1255.96" x2="1966.10" y2="1226.09" stroke="#000" stroke-width="6" stroke-linecap="round"/>
<circle cx="1851.60" cy="1255.96" r="7.3" fill="#000"/>
<circle cx="1966.10" cy="1226.09" r="7.3" fill="#000"/>
<text x="1390.55" y="1488.40" font-size="36.92" fill="#0000CD" textLength="114.81" lengthAdjust="spacingAndGlyphs">Offense</text>
<text x="1535.39" y="1488.40" font-size="36.92" fill="#000" textLength="32.28" lengthAdjust="spacingAndGlyphs">vs</text>
<text x="1588.56" y="1488.40" font-size="36.92" fill="#DD0F1E" textLength="119.87" lengthAdjust="spacingAndGlyphs">Defense</text>
<text x="1734.89" y="1488.40" font-size="36.92" fill="#000" textLength="31.44" lengthAdjust="spacingAndGlyphs">vs</text>
<text x="1786.06" y="1488.40" font-size="36.92" fill="#8CC4DC" textLength="133.80" lengthAdjust="spacingAndGlyphs">Finishing</text>
<line x1="1324.40" y1="1798.44" x2="2036.00" y2="1798.44" stroke="#D0D0D0" stroke-width="1.4"/>
<line x1="1324.40" y1="1706.68" x2="2036.00" y2="1706.68" stroke="#D0D0D0" stroke-width="1.4"/>
<line x1="1324.40" y1="1614.92" x2="2036.00" y2="1614.92" stroke="#D0D0D0" stroke-width="1.4"/>
<line x1="1324.40" y1="1523.16" x2="2036.00" y2="1523.16" stroke="#D0D0D0" stroke-width="1.4"/>
<line x1="1324.40" y1="1890.20" x2="2036.00" y2="1890.20" stroke="#000" stroke-width="3.6"/>
<text x="1297.12" y="1898.95" font-size="24.72" fill="#4D4D4D" textLength="13.75" lengthAdjust="spacingAndGlyphs">0</text>
<text x="1283.44" y="1807.19" font-size="24.72" fill="#4D4D4D" textLength="27.49" lengthAdjust="spacingAndGlyphs">25</text>
<text x="1283.37" y="1715.43" font-size="24.72" fill="#4D4D4D" textLength="27.49" lengthAdjust="spacingAndGlyphs">50</text>
<text x="1283.44" y="1623.67" font-size="24.72" fill="#4D4D4D" textLength="27.49" lengthAdjust="spacingAndGlyphs">75</text>
<text x="1269.63" y="1531.91" font-size="24.72" fill="#4D4D4D" textLength="41.24" lengthAdjust="spacingAndGlyphs">100</text>
<text x="1361.63" y="1921.50" font-size="24.72" fill="#4D4D4D" textLength="63.22" lengthAdjust="spacingAndGlyphs">18-19</text>
<text x="1476.03" y="1921.50" font-size="24.72" fill="#4D4D4D" textLength="63.22" lengthAdjust="spacingAndGlyphs">19-20</text>
<text x="1590.97" y="1921.50" font-size="24.72" fill="#4D4D4D" textLength="63.22" lengthAdjust="spacingAndGlyphs">20-21</text>
<text x="1705.49" y="1921.50" font-size="24.72" fill="#4D4D4D" textLength="63.22" lengthAdjust="spacingAndGlyphs">21-22</text>
<text x="1819.91" y="1921.50" font-size="24.72" fill="#4D4D4D" textLength="63.22" lengthAdjust="spacingAndGlyphs">22-23</text>
<text x="1934.23" y="1921.50" font-size="24.72" fill="#4D4D4D" textLength="63.22" lengthAdjust="spacingAndGlyphs">23-24</text>
<line x1="1851.60" y1="1710.35" x2="1966.10" y2="1692.00" stroke="#0000EE" stroke-width="6" stroke-linecap="round"/>
<circle cx="1851.60" cy="1710.35" r="7.3" fill="#0000EE"/>
<circle cx="1966.10" cy="1692.00" r="7.3" fill="#0000EE"/>
<line x1="1851.60" y1="1809.45" x2="1966.10" y2="1772.75" stroke="#EE0010" stroke-width="6" stroke-linecap="round"/>
<circle cx="1851.60" cy="1809.45" r="7.3" fill="#EE0010"/>
<circle cx="1966.10" cy="1772.75" r="7.3" fill="#EE0010"/>
<text x="2484.93" y="293.40" font-size="40.55" fill="#000" textLength="165.45" lengthAdjust="spacingAndGlyphs">Style Trend</text>
<line x1="2152.00" y1="1109.80" x2="2984.10" y2="1109.80" stroke="#D0D0D0" stroke-width="1.4"/>
<line x1="2152.00" y1="858.20" x2="2984.10" y2="858.20" stroke="#D0D0D0" stroke-width="1.4"/>
<line x1="2152.00" y1="606.60" x2="2984.10" y2="606.60" stroke="#D0D0D0" stroke-width="1.4"/>
<line x1="2152.00" y1="355.00" x2="2984.10" y2="355.00" stroke="#D0D0D0" stroke-width="1.4"/>
<line x1="2152.00" y1="1361.40" x2="2984.10" y2="1361.40" stroke="#000" stroke-width="3.6"/>
<text x="2124.42" y="1370.15" font-size="24.72" fill="#4D4D4D" textLength="13.75" lengthAdjust="spacingAndGlyphs">0</text>
<text x="2110.74" y="1118.55" font-size="24.72" fill="#4D4D4D" textLength="27.49" lengthAdjust="spacingAndGlyphs">25</text>
<text x="2110.67" y="866.95" font-size="24.72" fill="#4D4D4D" textLength="27.49" lengthAdjust="spacingAndGlyphs">50</text>
<text x="2110.74" y="615.35" font-size="24.72" fill="#4D4D4D" textLength="27.49" lengthAdjust="spacingAndGlyphs">75</text>
<text x="2096.93" y="363.75" font-size="24.72" fill="#4D4D4D" textLength="41.24" lengthAdjust="spacingAndGlyphs">100</text>
<text x="2143.99" y="1396.90" font-size="24.72" fill="#4D4D4D" textLength="63.22" lengthAdjust="spacingAndGlyphs">21-22</text>
<text x="2388.91" y="1396.90" font-size="24.72" fill="#4D4D4D" textLength="63.22" lengthAdjust="spacingAndGlyphs">22-23</text>
<text x="2633.73" y="1396.90" font-size="24.72" fill="#4D4D4D" textLength="63.22" lengthAdjust="spacingAndGlyphs">23-24</text>
<g opacity="0.09">
<line x1="2420.60" y1="858.20" x2="2665.60" y2="928.65" stroke="#66A61E" stroke-width="6.6" stroke-linecap="round"/>
<circle cx="2420.60" cy="858.20" r="7.5" fill="#66A61E"/>
<circle cx="2665.60" cy="928.65" r="7.5" fill="#66A61E"/>
</g>
<g opacity="0.09">
<line x1="2420.60" y1="963.87" x2="2665.60" y2="888.39" stroke="#D95F02" stroke-width="6.6" stroke-linecap="round"/>
<circle cx="2420.60" cy="963.87" r="7.5" fill="#D95F02"/>
<circle cx="2665.60" cy="888.39" r="7.5" fill="#D95F02"/>
</g>
<g>
<line x1="2420.60" y1="908.52" x2="2665.60" y2="1019.22" stroke="#1B9E77" stroke-width="6.6" stroke-linecap="round"/>
<circle cx="2420.60" cy="908.52" r="7.5" fill="#1B9E77"/>
<circle cx="2665.60" cy="1019.22" r="7.5" fill="#1B9E77"/>
</g>
<g>
<line x1="2420.60" y1="978.97" x2="2665.60" y2="828.01" stroke="#4D4D4D" stroke-width="6.6" stroke-linecap="round"/>
<circle cx="2420.60" cy="978.97" r="7.5" fill="#4D4D4D"/>
<circle cx="2665.60" cy="828.01" r="7.5" fill="#4D4D4D"/>
</g>
<g>
<line x1="2420.60" y1="536.15" x2="2665.60" y2="928.65" stroke="#5E50A8" stroke-width="6.6" stroke-linecap="round"/>
<circle cx="2420.60" cy="536.15" r="7.5" fill="#5E50A8"/>
<circle cx="2665.60" cy="928.65" r="7.5" fill="#5E50A8"/>
</g>
<g>
<line x1="2420.60" y1="586.47" x2="2665.60" y2="989.03" stroke="#666666" stroke-width="6.6" stroke-linecap="round"/>
<circle cx="2420.60" cy="586.47" r="7.5" fill="#666666"/>
<circle cx="2665.60" cy="989.03" r="7.5" fill="#666666"/>
</g>
<g>
<line x1="2420.60" y1="616.66" x2="2665.60" y2="1009.16" stroke="#8C5A10" stroke-width="6.6" stroke-linecap="round"/>
<circle cx="2420.60" cy="616.66" r="7.5" fill="#8C5A10"/>
<circle cx="2665.60" cy="1009.16" r="7.5" fill="#8C5A10"/>
</g>
<g>
<line x1="2420.60" y1="656.92" x2="2665.60" y2="1109.80" stroke="#E6A400" stroke-width="6.6" stroke-linecap="round"/>
<circle cx="2420.60" cy="656.92" r="7.5" fill="#E6A400"/>
<circle cx="2665.60" cy="1109.80" r="7.5" fill="#E6A400"/>
</g>
<line x1="2665.60" y1="828.01" x2="2870.70" y2="807.20" stroke="#4D4D4D" stroke-width="2.6"/>
<line x1="2665.60" y1="888.39" x2="2854.00" y2="864.20" stroke="#C8541A" stroke-width="2.6"/>
<line x1="2665.60" y1="928.65" x2="2776.30" y2="921.05" stroke="#5E50A8" stroke-width="2.6"/>
<line x1="2665.60" y1="928.65" x2="2776.30" y2="977.75" stroke="#5E9A26" stroke-width="2.6"/>
<line x1="2665.60" y1="1009.16" x2="2698.60" y2="1061.65" stroke="#8C5A10" stroke-width="2.6"/>
<line x1="2665.60" y1="989.03" x2="2856.10" y2="1035.05" stroke="#666666" stroke-width="2.6"/>
<line x1="2665.60" y1="1019.22" x2="2856.10" y2="1092.70" stroke="#1B9A77" stroke-width="2.6"/>
<line x1="2665.60" y1="1109.80" x2="2766.00" y2="1149.40" stroke="#E0A000" stroke-width="2.6"/>
<rect x="2870.70" y="788.70" width="80.80" height="37.00" fill="#fff" stroke="#4D4D4D" stroke-width="1.8" rx="6"/>
<text x="2880.62" y="815.90" font-size="25.29" fill="#4D4D4D" textLength="60.74" lengthAdjust="spacingAndGlyphs">Shots</text>
<rect x="2854.00" y="845.90" width="114.00" height="36.60" fill="#fff" stroke="#C8541A" stroke-width="1.8" rx="6"/>
<text x="2863.78" y="872.90" font-size="25.29" fill="#C8541A" textLength="94.77" lengthAdjust="spacingAndGlyphs">Crossing</text>
<rect x="2776.30" y="902.70" width="198.50" height="36.70" fill="#fff" stroke="#5E50A8" stroke-width="1.8" rx="6"/>
<text x="2785.33" y="929.75" font-size="25.29" fill="#5E50A8" textLength="180.03" lengthAdjust="spacingAndGlyphs">Defensive Action</text>
<rect x="2776.30" y="959.60" width="198.50" height="36.30" fill="#fff" stroke="#5E9A26" stroke-width="1.8" rx="6"/>
<text x="2785.33" y="986.45" font-size="25.29" fill="#5E9A26" textLength="180.03" lengthAdjust="spacingAndGlyphs">Long Distribution</text>
<rect x="2698.60" y="1043.50" width="276.20" height="36.30" fill="#fff" stroke="#8C5A10" stroke-width="1.8" rx="6"/>
<text x="2707.65" y="1070.35" font-size="25.29" fill="#8C5A10" textLength="256.32" lengthAdjust="spacingAndGlyphs">Possession Involvement</text>
<rect x="2856.10" y="1016.70" width="109.70" height="36.70" fill="#fff" stroke="#666666" stroke-width="1.8" rx="6"/>
<text x="2865.88" y="1043.75" font-size="25.29" fill="#666666" textLength="90.46" lengthAdjust="spacingAndGlyphs">Carrying</text>
<rect x="2856.10" y="1074.50" width="109.70" height="36.40" fill="#fff" stroke="#1B9A77" stroke-width="1.8" rx="6"/>
<text x="2865.88" y="1101.40" font-size="25.29" fill="#1B9A77" textLength="90.47" lengthAdjust="spacingAndGlyphs">Creation</text>
<rect x="2766.00" y="1131.10" width="208.80" height="36.60" fill="#fff" stroke="#E0A000" stroke-width="1.8" rx="6"/>
<text x="2775.05" y="1158.10" font-size="25.29" fill="#E0A000" textLength="188.80" lengthAdjust="spacingAndGlyphs">Passing Accuracy</text>
<text x="2559.23" y="1483.80" font-size="35.17" fill="#000" textLength="216.24" lengthAdjust="spacingAndGlyphs">Similar Players</text>
<rect x="2380.40" y="1527.60" width="512.80" height="42.60" fill="#FA8484" stroke="#000" stroke-width="3" rx="0"/>
<rect x="2380.40" y="1612.00" width="512.00" height="42.60" fill="#FA8484" stroke="#000" stroke-width="3" rx="0"/>
<rect x="2380.40" y="1696.40" width="511.10" height="42.60" fill="#FA8484" stroke="#000" stroke-width="3" rx="0"/>
<rect x="2380.40" y="1780.80" width="507.80" height="42.60" fill="#FA8484" stroke="#000" stroke-width="3" rx="0"/>
<rect x="2380.40" y="1865.20" width="507.60" height="42.60" fill="#FA8484" stroke="#000" stroke-width="3" rx="0"/>
<text x="2181.42" y="1545.20" font-size="27.62" fill="#000" textLength="156.08" lengthAdjust="spacingAndGlyphs">Junior Sambia</text>
<text x="2196.15" y="1575.20" font-size="27.62" fill="#000" textLength="142.90" lengthAdjust="spacingAndGlyphs">(Salernitana)</text>
<rect x="2854.00" y="1531.80" width="76.70" height="34.20" fill="#fff" stroke="#000" stroke-width="1.5" rx="5"/>
<text x="2864.33" y="1556.20" font-size="20.62" fill="#000" textLength="55.82" lengthAdjust="spacingAndGlyphs">97.8%</text>
<text x="2226.97" y="1629.60" font-size="27.62" fill="#000" textLength="111.57" lengthAdjust="spacingAndGlyphs">Loic Nego</text>
<text x="2224.09" y="1659.60" font-size="27.62" fill="#000" textLength="114.92" lengthAdjust="spacingAndGlyphs">(Le Havre)</text>
<rect x="2853.60" y="1616.20" width="76.40" height="34.20" fill="#fff" stroke="#000" stroke-width="1.5" rx="5"/>
<text x="2863.93" y="1640.60" font-size="20.62" fill="#000" textLength="55.52" lengthAdjust="spacingAndGlyphs">97.7%</text>
<text x="2142.09" y="1714.00" font-size="27.62" fill="#000" textLength="196.48" lengthAdjust="spacingAndGlyphs">Weston McKennie</text>
<text x="2220.32" y="1744.00" font-size="27.62" fill="#000" textLength="118.75" lengthAdjust="spacingAndGlyphs">(Juventus)</text>
<rect x="2852.70" y="1700.60" width="76.40" height="34.20" fill="#fff" stroke="#000" stroke-width="1.5" rx="5"/>
<text x="2863.03" y="1725.00" font-size="20.62" fill="#000" textLength="55.52" lengthAdjust="spacingAndGlyphs">97.5%</text>
<text x="2096.28" y="1798.40" font-size="27.62" fill="#000" textLength="242.80" lengthAdjust="spacingAndGlyphs">Gabriel Gudmundsson</text>
<text x="2274.05" y="1828.40" font-size="27.62" fill="#000" textLength="65.10" lengthAdjust="spacingAndGlyphs">(Lille)</text>
<rect x="2857.70" y="1785.00" width="59.70" height="34.20" fill="#fff" stroke="#000" stroke-width="1.5" rx="5"/>
<text x="2868.04" y="1809.40" font-size="20.62" fill="#000" textLength="38.80" lengthAdjust="spacingAndGlyphs">97%</text>
<text x="2161.00" y="1882.80" font-size="27.62" fill="#000" textLength="177.52" lengthAdjust="spacingAndGlyphs">Deiver Machado</text>
<text x="2267.84" y="1912.80" font-size="27.62" fill="#000" textLength="71.22" lengthAdjust="spacingAndGlyphs">(Lens)</text>
<rect x="2849.80" y="1869.40" width="75.90" height="34.20" fill="#fff" stroke="#000" stroke-width="1.5" rx="5"/>
<text x="2860.14" y="1893.80" font-size="20.62" fill="#000" textLength="55.00" lengthAdjust="spacingAndGlyphs">96.9%</text>
</svg></body></html>
